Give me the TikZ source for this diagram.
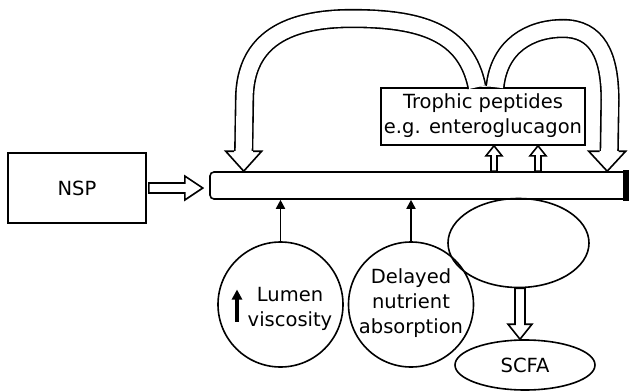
\documentclass[tikz,border=0pt]{standalone}
\usepackage{fontspec}
\setmainfont{DejaVu Sans}
\usetikzlibrary{calc,shapes.geometric,arrows.meta}
\tikzset{
  outline/.style={draw=black, line width=1.6pt},
  boxnode/.style={outline, rectangle, inner sep=0pt},
  circnode/.style={outline, circle, inner sep=0pt, minimum size=125pt},
  ellnode/.style={outline, ellipse, inner sep=0pt},
  txt/.style={align=center, inner sep=0pt},
  hollow/.style={draw=black, fill=white, line width=1.6pt, line join=miter},
  bigband/.style={draw=black, line width=1.6pt, double=white, double distance=16pt},
  blackarrow/.style={draw=black, line width=1.8pt, -{Triangle[length=9pt,width=9pt]}},
}
\newcommand\hollowarr[5]{%
  \coordinate (hb) at ($(#2)!#5!(#1)$);
  \filldraw[hollow] ($(#1)!#3!90:(#2)$) -- ($(hb)!#3!90:(#2)$) -- ($(hb)!#4!90:(#2)$) -- (#2)
    -- ($(hb)!#4!-90:(#2)$) -- ($(hb)!#3!-90:(#2)$) -- ($(#1)!#3!-90:(#2)$) -- cycle;
}
\begin{document}
\begin{tikzpicture}[x=1pt,y=-1pt,font=\fontsize{19.5}{25}\selectfont]
\useasboundingbox (0,0) rectangle (629,391);
% nodes
\node[boxnode, minimum width=138pt, minimum height=70pt] (nsp) at (77,188) {NSP};
\node[outline, rectangle, rounded corners=4pt, minimum width=417pt, minimum height=27pt, inner sep=0pt] (bar) at (418.5,185.5) {};
\fill ($(bar.north east)+(-4.5,-0.8)$) rectangle ($(bar.south east)+(0.8,0.8)$);
\node[boxnode, minimum width=204pt, minimum height=57pt, fill=white] (troph) at (483,116.5) {};
\node[txt] (trophtext) at (483,116) {Trophic peptides\\e.g. enteroglucagon};
\node[circnode] (lumen) at (280.5,304.5) {};
\node[txt] (lumentext) at (290,309) {Lumen\\viscosity};
\node[circnode] (delayed) at (411,304.5) {};
\node[txt] (delayedtext) at (411,303) {Delayed\\nutrient\\absorption};
\node[ellnode, minimum width=141pt, minimum height=89pt] (colon) at (518.5,243) {};
\node[ellnode, minimum width=140pt, minimum height=50pt] (scfa) at (525,365) {SCFA};

% NSP -> bar
\coordinate (n1) at ($(nsp.east)+(2,0)$);
\coordinate (n2) at ($(nsp.east)+(56,0)$);
\hollowarr{n1}{n2}{5pt}{12pt}{18pt}

% small arrows bar -> trophic box
\coordinate (x1) at (494,0);
\coordinate (x2) at (538,0);
\coordinate (s1a) at (bar.north -| x1);
\coordinate (s1b) at (troph.south -| x1);
\coordinate (s2a) at (bar.north -| x2);
\coordinate (s2b) at (troph.south -| x2);
\hollowarr{s1a}{s1b}{3pt}{8pt}{10pt}
\hollowarr{s2a}{s2b}{3pt}{8pt}{10pt}

% colon -> SCFA
\coordinate (x3) at (520,0);
\coordinate (c1) at (colon.south -| x3);
\coordinate (c2) at (scfa.north -| x3);
\hollowarr{c1}{c2}{5pt}{12pt}{15pt}

% big curved arrows from trophic box back to bar
\coordinate (la) at ($(troph.north)+(-6,0)$);
\coordinate (ltip) at ($(bar.north west)+(34.5,0)$);
\coordinate (lb) at ($(ltip)+(0,-20)$);
\draw[bigband] (la) .. controls (466,32) and (420,18.5) .. (352,18.5)
  .. controls (280,18.5) and (244.5,45) .. (244.5,100) -- (lb);
\filldraw[hollow] ($(lb)+(-9.5,0)$) -- ($(lb)+(-18,0)$) -- (ltip) -- ($(lb)+(18,0)$) -- ($(lb)+(9.5,0)$);
\fill[white] ($(lb)+(-8.6,-0.5)$) rectangle ($(lb)+(8.6,1)$);

\coordinate (ra) at ($(troph.north)+(12,0)$);
\coordinate (rtip) at ($(bar.north west)+(398,0)$);
\coordinate (rb) at ($(rtip)+(0,-20)$);
\draw[bigband] (ra) .. controls (499,46) and (530,28.5) .. (563,28.5)
  .. controls (597,28.5) and (610,55) .. (610,100) -- ($(rb)+(2,0)$);
\filldraw[hollow] ($(rb)+(-7.5,0)$) -- ($(rb)+(-18.5,0)$) -- (rtip) -- ($(rb)+(18.5,0)$) -- ($(rb)+(11.5,0)$);
\fill[white] ($(rb)+(-6.6,-0.5)$) rectangle ($(rb)+(10.6,1)$);

% black arrows circles -> bar
\draw[blackarrow] (lumen.north) -- (lumen.north |- bar.south);
\draw[blackarrow] (delayed.north) -- (delayed.north |- bar.south);

% up arrow in lumen circle
\coordinate (u1) at ($(lumen.center)+(-43.5,17)$);
\coordinate (u2) at ($(lumen.center)+(-43.5,-15)$);
\draw[line width=3.2pt, -{Triangle[length=10pt,width=10pt]}] (u1) -- (u2);
\end{tikzpicture}
\end{document}
